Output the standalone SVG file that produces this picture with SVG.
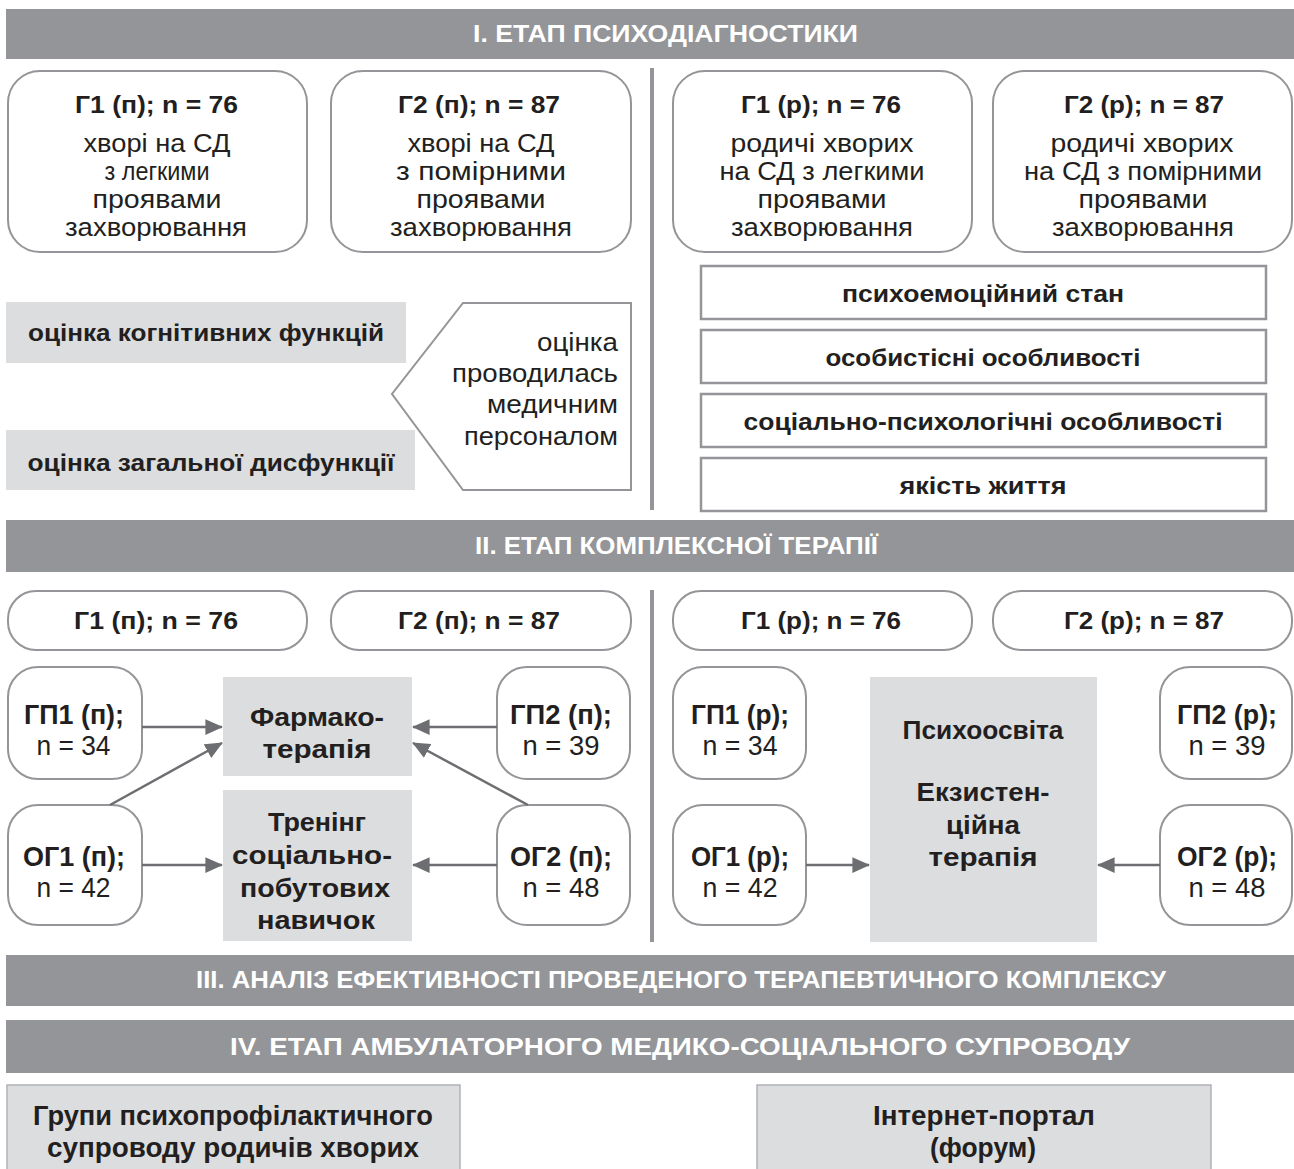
<svg xmlns="http://www.w3.org/2000/svg" width="1294" height="1169" viewBox="0 0 1294 1169">
<defs>
<style>
text{font-family:"Liberation Sans",Arial,sans-serif;fill:#231f20;text-anchor:middle}
.b{font-weight:700}
.hdr{fill:#939598}
.htx{fill:#ffffff;font-weight:700;font-size:23px}
.rb{fill:#ffffff;stroke:#939598;stroke-width:2}
.gb{fill:#dcdddf}
.bb{fill:#dcdddf;stroke:#b1b3b6;stroke-width:1.5}
.sb{fill:#ffffff;stroke:#939598;stroke-width:2.5}
.div{stroke:#939598;stroke-width:4}
.r25{font-size:25px}
.b24{font-size:24px;font-weight:700}
.b26{font-size:26px;font-weight:700}
.b27{font-size:27px;font-weight:700}
.r27{font-size:27px}
.end{text-anchor:end}
.con{stroke:#6d6e71;stroke-width:2.5;fill:none;marker-end:url(#ah)}
</style>
<marker id="ah" viewBox="0 0 10 9" refX="9.5" refY="4.5" markerWidth="7" markerHeight="6.3" markerUnits="strokeWidth" orient="auto">
<path d="M0,0 L10,4.5 L0,9 z" fill="#6d6e71"/>
</marker>
</defs>
<rect width="1294" height="1169" fill="#ffffff"/>

<g id="header1"><rect class="hdr" x="6" y="9" width="1288" height="50"/><text class="htx" x="665.5" y="42" textLength="385" lengthAdjust="spacingAndGlyphs">I. ЕТАП ПСИХОДІАГНОСТИКИ</text></g>
<line class="div" x1="652" y1="68" x2="652" y2="510"/>

<g id="g1p"><rect class="rb" x="8" y="71" width="299" height="181" rx="32"/>
<text class="b24" x="156.5" y="113" textLength="163" lengthAdjust="spacingAndGlyphs">Г1 (п); n = 76</text>
<text class="r25" x="157" y="152" textLength="147" lengthAdjust="spacingAndGlyphs">хворі на СД</text>
<text class="r25" x="157" y="180" textLength="105" lengthAdjust="spacingAndGlyphs">з легкими</text>
<text class="r25" x="157" y="208" textLength="129" lengthAdjust="spacingAndGlyphs">проявами</text>
<text class="r25" x="156" y="236" textLength="182" lengthAdjust="spacingAndGlyphs">захворювання</text></g>
<g id="g2p"><rect class="rb" x="331" y="71" width="300" height="181" rx="32"/>
<text class="b24" x="479" y="113" textLength="162" lengthAdjust="spacingAndGlyphs">Г2 (п); n = 87</text>
<text class="r25" x="481" y="152" textLength="147" lengthAdjust="spacingAndGlyphs">хворі на СД</text>
<text class="r25" x="481" y="180" textLength="170" lengthAdjust="spacingAndGlyphs">з помірними</text>
<text class="r25" x="481" y="208" textLength="129" lengthAdjust="spacingAndGlyphs">проявами</text>
<text class="r25" x="481" y="236" textLength="182" lengthAdjust="spacingAndGlyphs">захворювання</text></g>
<g id="g1r"><rect class="rb" x="673" y="71" width="299" height="181" rx="32"/>
<text class="b24" x="821" y="113" textLength="160" lengthAdjust="spacingAndGlyphs">Г1 (р); n = 76</text>
<text class="r25" x="822" y="152" textLength="183" lengthAdjust="spacingAndGlyphs">родичі хворих</text>
<text class="r25" x="822" y="180" textLength="205" lengthAdjust="spacingAndGlyphs">на СД з легкими</text>
<text class="r25" x="822" y="208" textLength="129" lengthAdjust="spacingAndGlyphs">проявами</text>
<text class="r25" x="822" y="236" textLength="182" lengthAdjust="spacingAndGlyphs">захворювання</text></g>
<g id="g2r"><rect class="rb" x="993" y="71" width="299" height="181" rx="32"/>
<text class="b24" x="1144" y="113" textLength="160" lengthAdjust="spacingAndGlyphs">Г2 (р); n = 87</text>
<text class="r25" x="1142" y="152" textLength="183" lengthAdjust="spacingAndGlyphs">родичі хворих</text>
<text class="r25" x="1143" y="180" textLength="238" lengthAdjust="spacingAndGlyphs">на СД з помірними</text>
<text class="r25" x="1143" y="208" textLength="129" lengthAdjust="spacingAndGlyphs">проявами</text>
<text class="r25" x="1143" y="236" textLength="182" lengthAdjust="spacingAndGlyphs">захворювання</text></g>

<g id="cog"><rect class="gb" x="6" y="302" width="400" height="61"/><text class="b24" x="206" y="341" textLength="356" lengthAdjust="spacingAndGlyphs">оцінка когнітивних функцій</text></g>
<g id="dys"><rect class="gb" x="6" y="430" width="409" height="60"/><text class="b24" x="211" y="471" textLength="367" lengthAdjust="spacingAndGlyphs">оцінка загальної дисфункції</text></g>
<g id="staff"><polygon class="rb" points="463,303 631,303 631,490 463,490 392,394"/>
<text class="r25 end" x="618" y="351" textLength="81" lengthAdjust="spacingAndGlyphs">оцінка</text>
<text class="r25 end" x="618" y="382" textLength="166" lengthAdjust="spacingAndGlyphs">проводилась</text>
<text class="r25 end" x="618" y="413" textLength="131" lengthAdjust="spacingAndGlyphs">медичним</text>
<text class="r25 end" x="618" y="445" textLength="154" lengthAdjust="spacingAndGlyphs">персоналом</text></g>

<g id="emo"><rect class="sb" x="701" y="266" width="565" height="53"/><text class="b24" x="983" y="302" textLength="282" lengthAdjust="spacingAndGlyphs">психоемоційний стан</text></g>
<g id="pers"><rect class="sb" x="701" y="330" width="565" height="53"/><text class="b24" x="983" y="366" textLength="315" lengthAdjust="spacingAndGlyphs">особистісні особливості</text></g>
<g id="soc"><rect class="sb" x="701" y="394" width="565" height="53"/><text class="b24" x="983" y="430" textLength="479" lengthAdjust="spacingAndGlyphs">соціально-психологічні  особливості</text></g>
<g id="qol"><rect class="sb" x="701" y="458" width="565" height="53"/><text class="b24" x="983" y="494" textLength="167" lengthAdjust="spacingAndGlyphs">якість життя</text></g>

<g id="header2"><rect class="hdr" x="6" y="520" width="1288" height="52"/><text class="htx" x="676.5" y="554" textLength="403" lengthAdjust="spacingAndGlyphs">II. ЕТАП КОМПЛЕКСНОЇ ТЕРАПІЇ</text></g>
<line class="div" x1="652" y1="590" x2="652" y2="942"/>

<g id="g1p2"><rect class="rb" x="8" y="591" width="299" height="59" rx="28"/><text class="b24" x="156" y="629" textLength="164" lengthAdjust="spacingAndGlyphs">Г1 (п); n = 76</text></g>
<g id="g2p2"><rect class="rb" x="331" y="591" width="300" height="59" rx="28"/><text class="b24" x="479" y="629" textLength="162" lengthAdjust="spacingAndGlyphs">Г2 (п); n = 87</text></g>
<g id="g1r2"><rect class="rb" x="673" y="591" width="299" height="59" rx="28"/><text class="b24" x="821" y="629" textLength="160" lengthAdjust="spacingAndGlyphs">Г1 (р); n = 76</text></g>
<g id="g2r2"><rect class="rb" x="993" y="591" width="299" height="59" rx="28"/><text class="b24" x="1144" y="629" textLength="160" lengthAdjust="spacingAndGlyphs">Г2 (р); n = 87</text></g>

<g id="gp1p"><rect class="rb" x="8" y="667" width="134" height="112" rx="30"/><text class="b27" x="74" y="724" textLength="100" lengthAdjust="spacingAndGlyphs">ГП1 (п);</text><text class="r27" x="73.5" y="755" textLength="74" lengthAdjust="spacingAndGlyphs">n = 34</text></g>
<g id="og1p"><rect class="rb" x="8" y="805" width="134" height="120" rx="30"/><text class="b27" x="74" y="866" textLength="102" lengthAdjust="spacingAndGlyphs">ОГ1 (п);</text><text class="r27" x="73.5" y="897" textLength="74" lengthAdjust="spacingAndGlyphs">n = 42</text></g>
<g id="pharm"><rect class="gb" x="223" y="677" width="189" height="99"/><text class="b26" x="317" y="726" textLength="134" lengthAdjust="spacingAndGlyphs">Фармако-</text><text class="b26" x="317" y="758" textLength="109" lengthAdjust="spacingAndGlyphs">терапія</text></g>
<g id="train"><rect class="gb" x="223" y="790" width="189" height="151"/><text class="b26" x="317" y="831" textLength="98" lengthAdjust="spacingAndGlyphs">Тренінг</text><text class="b26" x="312" y="864" textLength="160" lengthAdjust="spacingAndGlyphs">соціально-</text><text class="b26" x="315" y="897" textLength="150" lengthAdjust="spacingAndGlyphs">побутових</text><text class="b26" x="316" y="929" textLength="118" lengthAdjust="spacingAndGlyphs">навичок</text></g>
<g id="gp2p"><rect class="rb" x="497" y="667" width="133" height="112" rx="30"/><text class="b27" x="561" y="724" textLength="102" lengthAdjust="spacingAndGlyphs">ГП2 (п);</text><text class="r27" x="561" y="755" textLength="77" lengthAdjust="spacingAndGlyphs">n = 39</text></g>
<g id="og2p"><rect class="rb" x="497" y="805" width="133" height="120" rx="30"/><text class="b27" x="561" y="866" textLength="102" lengthAdjust="spacingAndGlyphs">ОГ2 (п);</text><text class="r27" x="561" y="897" textLength="77" lengthAdjust="spacingAndGlyphs">n = 48</text></g>

<g id="gp1r"><rect class="rb" x="673" y="667" width="133" height="112" rx="30"/><text class="b27" x="740" y="724" textLength="98" lengthAdjust="spacingAndGlyphs">ГП1 (р);</text><text class="r27" x="740" y="755" textLength="75" lengthAdjust="spacingAndGlyphs">n = 34</text></g>
<g id="og1r"><rect class="rb" x="673" y="805" width="133" height="120" rx="30"/><text class="b27" x="740" y="866" textLength="98" lengthAdjust="spacingAndGlyphs">ОГ1 (р);</text><text class="r27" x="740" y="897" textLength="75" lengthAdjust="spacingAndGlyphs">n = 42</text></g>
<g id="psy"><rect class="gb" x="870" y="677" width="227" height="265"/><text class="b26" x="983" y="739" textLength="161" lengthAdjust="spacingAndGlyphs">Психоосвіта</text><text class="b26" x="983" y="801" textLength="133" lengthAdjust="spacingAndGlyphs">Екзистен-</text><text class="b26" x="983" y="834" textLength="74" lengthAdjust="spacingAndGlyphs">ційна</text><text class="b26" x="983" y="866" textLength="109" lengthAdjust="spacingAndGlyphs">терапія</text></g>
<g id="gp2r"><rect class="rb" x="1160" y="667" width="132" height="112" rx="30"/><text class="b27" x="1227" y="724" textLength="100" lengthAdjust="spacingAndGlyphs">ГП2 (р);</text><text class="r27" x="1227" y="755" textLength="77" lengthAdjust="spacingAndGlyphs">n = 39</text></g>
<g id="og2r"><rect class="rb" x="1160" y="805" width="132" height="120" rx="30"/><text class="b27" x="1227" y="866" textLength="100" lengthAdjust="spacingAndGlyphs">ОГ2 (р);</text><text class="r27" x="1227" y="897" textLength="77" lengthAdjust="spacingAndGlyphs">n = 48</text></g>

<g id="connectors">
<line class="con" x1="142" y1="727" x2="222" y2="727"/>
<line class="con" x1="110" y1="805" x2="222" y2="743"/>
<line class="con" x1="142" y1="865" x2="222" y2="865"/>
<line class="con" x1="497" y1="727" x2="413" y2="727"/>
<line class="con" x1="528" y1="805" x2="413" y2="743"/>
<line class="con" x1="497" y1="865" x2="413" y2="865"/>
<line class="con" x1="806" y1="865" x2="869" y2="865"/>
<line class="con" x1="1160" y1="865" x2="1098" y2="865"/>
</g>

<g id="header3"><rect class="hdr" x="6" y="955" width="1288" height="51"/><text class="htx" x="681" y="988" textLength="970" lengthAdjust="spacingAndGlyphs">III. АНАЛІЗ ЕФЕКТИВНОСТІ ПРОВЕДЕНОГО ТЕРАПЕВТИЧНОГО КОМПЛЕКСУ</text></g>
<g id="header4"><rect class="hdr" x="6" y="1020" width="1288" height="53"/><text class="htx" x="680" y="1055" textLength="900" lengthAdjust="spacingAndGlyphs">IV. ЕТАП АМБУЛАТОРНОГО МЕДИКО-СОЦІАЛЬНОГО СУПРОВОДУ</text></g>

<g id="groups"><rect class="bb" x="7" y="1085" width="453" height="95"/><text class="b27" x="233" y="1125" textLength="400" lengthAdjust="spacingAndGlyphs">Групи психопрофілактичного</text><text class="b27" x="233" y="1157" textLength="372" lengthAdjust="spacingAndGlyphs">супроводу родичів хворих</text></g>
<g id="portal"><rect class="bb" x="757" y="1085" width="454" height="95"/><text class="b27" x="984" y="1125" textLength="222" lengthAdjust="spacingAndGlyphs">Інтернет-портал</text><text class="b27" x="983" y="1157" textLength="106" lengthAdjust="spacingAndGlyphs">(форум)</text></g>
</svg>
